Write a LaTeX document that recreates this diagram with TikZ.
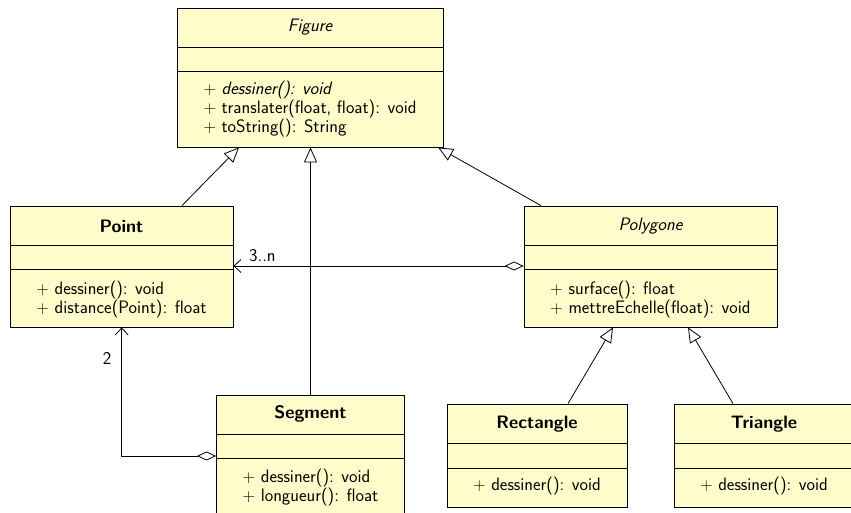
\documentclass[tikz,border=0pt]{standalone}
\usetikzlibrary{arrows.meta}
\begin{document}
\begin{tikzpicture}[x=1pt,y=-1pt,
  classbox/.style={draw, fill=yellow!20, line width=0.8pt, inner sep=0pt},
  divline/.style={line width=0.8pt},
  titletext/.style={font=\fontsize{18}{19}\selectfont\sffamily, inner sep=0pt},
  optext/.style={font=\fontsize{18}{19}\selectfont\sffamily, inner sep=0pt, align=left},
  gen/.style={line width=0.8pt, -{Triangle[open, length=15pt, width=13pt]}},
  agg/.style={line width=0.8pt, {Diamond[open, length=19pt, width=9pt]}-{Straight Barb[length=7pt, width=13pt]}},
  mult/.style={font=\fontsize{18}{19}\selectfont\sffamily, inner sep=0pt}
]
\useasboundingbox (0,0) rectangle (851,513);
\newcommand{\umlbox}[7]{%
  \node[classbox, minimum width={#3-#2}, minimum height={#5-#4}] (#1) at ({(#2+#3)/2},{(#4+#5)/2}) {};
  \draw[divline] (#1.west |- 0,#6) -- (#1.east |- 0,#6);
  \draw[divline] (#1.west |- 0,#7) -- (#1.east |- 0,#7);
}
% classes
\umlbox{figure}{177}{443}{8}{147}{47}{71}
\node[titletext] (figuret) at (figure.north |- 0,27.5) {\itshape Figure};
\node[optext] (figureo) at (figure.north |- 0,109.5) {\textit{$+$ dessiner(): void}\\$+$ translater(float, float): void\\$+$ toString(): String};

\umlbox{point}{10}{233}{206}{327}{245}{269}
\node[titletext] (pointt) at (point.north |- 0,226) {\bfseries Point};
\node[optext] (pointo) at (point.north |- 0,299.5) {$+$ dessiner(): void\\$+$ distance(Point): float};

\umlbox{polygone}{524}{777}{206}{327}{245}{269}
\node[titletext] (polygonet) at (polygone.north |- 0,226.5) {\itshape Polygone};
\node[optext] (polygoneo) at (polygone.north |- 0,299.5) {$+$ surface(): float\\$+$ mettreEchelle(float): void};

\umlbox{segment}{216.5}{404.5}{395}{530}{434}{458}
\node[titletext] (segmentt) at (segment.north |- 0,414) {\bfseries Segment};
\node[optext] (segmento) at (segment.north |- 0,488) {$+$ dessiner(): void\\$+$ longueur(): float};

\umlbox{rectangle}{447}{627}{404}{507}{443}{468}
\node[titletext] (rectanglet) at (rectangle.north |- 0,424) {\bfseries Rectangle};
\node[optext] (rectangleo) at (rectangle.north |- 0,486) {$+$ dessiner(): void};

\umlbox{triangle}{674}{854}{404}{507}{443}{468}
\node[titletext] (trianglet) at (triangle.north |- 0,424) {\bfseries Triangle};
\node[optext] (triangleo) at (triangle.north |- 0,486) {$+$ dessiner(): void};

% generalisations
\draw[gen] (point.north -| 182,0) -- (figure.south -| 239,0);
\draw[gen] (segment.north) -- (figure.south -| segment.north);
\draw[gen] (polygone.north -| 541,0) -- (figure.south -| 438,0);
\draw[gen] (rectangle.north -| 568,0) -- (polygone.south -| 613,0);
\draw[gen] (triangle.north -| 733,0) -- (polygone.south -| 688,0);

% aggregations
\draw[agg] (polygone.west |- 0,266) -- (point.east |- 0,266)
  node[mult, pos=0.9, above=4pt] (m1) {3..n};
\draw[agg] (segment.west |- 0,456) -| (point.south -| 121.7,0)
  node[mult, pos=0.88, left=10pt] (m2) {2};
\end{tikzpicture}
\end{document}
